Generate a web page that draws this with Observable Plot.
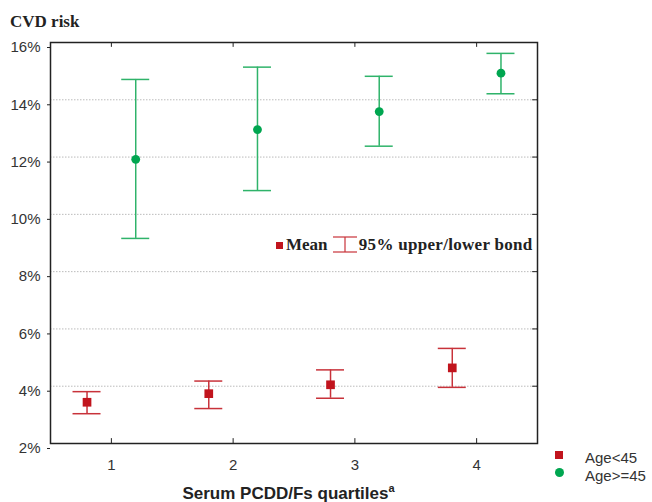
<!DOCTYPE html>
<html>
<head>
<meta charset="utf-8">
<script src="https://cdn.jsdelivr.net/npm/d3@7"></script>
<script src="https://cdn.jsdelivr.net/npm/@observablehq/plot@0.6"></script>
<style>
  html, body { margin: 0; padding: 0; background: #fff; }
  #wrap { position: relative; width: 652px; height: 502px; overflow: hidden; }
  .ov { position: absolute; white-space: nowrap; line-height: 1; }
  .serif { font-family: "Liberation Serif", "Times New Roman", serif; font-weight: bold; color: #222; }
  .sans { font-family: "Liberation Sans", Arial, sans-serif; color: #333; }
</style>
</head>
<body>
<div id="wrap"></div>
<script>
// ---- data ----
const quartiles = [1, 2, 3, 4];
const groups = ["Age<45", "Age>=45"];
const youngMean  = [3.44, 3.74, 4.05, 4.64];
const youngLower = [3.04, 3.22, 3.58, 3.96];
const youngUpper = [3.81, 4.18, 4.57, 5.32];
const oldMean  = [11.92, 12.96, 13.59, 14.93];
const oldLower = [9.16, 10.83, 12.38, 14.21];
const oldUpper = [14.71, 15.14, 14.82, 15.62];
const yTicks = [2, 4, 6, 8, 10, 12, 14, 16];
const gridTicks = [4, 6, 8, 10, 12, 14];

const RED = "#c1141d", RED_LINE = "#c8323a";
const GREEN = "#00a650", GREEN_LINE = "#2fb36a";
const offset = 0.2, capHalf = 0.115;

const rows = [];
quartiles.forEach((q, i) => {
  rows.push({group: groups[0], x: q - offset, mean: youngMean[i], lo: youngLower[i], hi: youngUpper[i]});
  rows.push({group: groups[1], x: q + offset, mean: oldMean[i], lo: oldLower[i], hi: oldUpper[i]});
});
const young = rows.filter(d => d.group === groups[0]);
const old = rows.filter(d => d.group === groups[1]);

function errMarks(data, col) {
  return [
    Plot.ruleX(data, {x: "x", y1: "lo", y2: "hi", stroke: col, strokeWidth: 1.5}),
    Plot.ruleY(data, {y: "hi", x1: d => d.x - capHalf, x2: d => d.x + capHalf, stroke: col, strokeWidth: 1.5}),
    Plot.ruleY(data, {y: "lo", x1: d => d.x - capHalf, x2: d => d.x + capHalf, stroke: col, strokeWidth: 1.5})
  ];
}

const chart = Plot.plot({
  width: 652,
  height: 502,
  marginTop: 42,
  marginBottom: 59,
  marginLeft: 50,
  marginRight: 115,
  style: {fontFamily: "Liberation Sans, Arial, sans-serif", fontSize: "15px", color: "#333", background: "#fff"},
  x: {domain: [0.5, 4.5]},
  y: {domain: [2, 16]},
  marks: [
    Plot.ruleY(gridTicks, {stroke: "#bbb", strokeWidth: 1, strokeDasharray: "1.5,1.5"}),
    // inward ticks
    Plot.ruleX(quartiles, {x: d => d, y1: 2, y2: 2.17, stroke: "#222"}),
    Plot.ruleX(quartiles, {x: d => d, y1: 16, y2: 15.83, stroke: "#222"}),
    Plot.ruleY(gridTicks, {y: d => d, x1: 4.5, x2: 4.46, stroke: "#222"}),
    Plot.axisX({ticks: quartiles, tickSize: 0, tickPadding: 16, label: null, tickFormat: d => String(d)}),
    Plot.axisY({ticks: yTicks, tickSize: 3, tickPadding: 7, dy: 5, label: null, tickFormat: d => d + "%", stroke: "#222"}),
    ...errMarks(young, RED_LINE),
    ...errMarks(old, GREEN_LINE),
    Plot.dot(young, {x: "x", y: "mean", symbol: "square", r: 4.9, fill: RED, stroke: "none"}),
    Plot.dot(old, {x: "x", y: "mean", symbol: "circle", r: 4.4, fill: GREEN, stroke: "none"}),
    Plot.frame({stroke: "#222", strokeWidth: 1.5})
  ]
});

const wrap = document.getElementById("wrap");
wrap.appendChild(chart);

function ov(html, cls, css) {
  const d = document.createElement("div");
  d.className = "ov " + cls;
  d.innerHTML = html;
  Object.assign(d.style, css);
  wrap.appendChild(d);
  return d;
}
// title
ov("CVD risk", "serif", {left: "10px", top: "13px", fontSize: "17px"});
// x-axis label
ov('Serum PCDD/Fs quartiles<sup style="font-size:11px;vertical-align:7px">a</sup>', "sans",
   {left: "0px", width: "577px", textAlign: "center", top: "483px", fontSize: "17px", fontWeight: "bold", color: "#222"});
// in-plot legend
ov('<span style="display:inline-block;width:7px;height:7px;background:' + RED + ';margin-right:3px;vertical-align:1px"></span>Mean ' +
   '<svg width="26" height="17" style="vertical-align:-3px;margin:0 1px 0 0"><line x1="1" x2="25" y1="1" y2="1" stroke="' + RED_LINE + '" stroke-width="1.2"/><line x1="1" x2="25" y1="16" y2="16" stroke="' + RED_LINE + '" stroke-width="1.2"/><line x1="13" x2="13" y1="1" y2="16" stroke="' + RED_LINE + '" stroke-width="1.2"/></svg>' +
   '<span style="letter-spacing:0.3px">95% upper/lower bond</span>',
   "serif", {left: "276px", top: "236px", fontSize: "17px"});
// group legend
ov('<span style="display:inline-block;width:8px;height:8px;background:' + RED + '"></span>', "sans", {left: "555px", top: "446px"});
ov('<span style="display:inline-block;width:9px;height:9px;border-radius:50%;background:' + GREEN + '"></span>', "sans", {left: "555px", top: "464px"});
ov(groups[0], "sans", {left: "585px", top: "450px", fontSize: "15px"});
ov(groups[1], "sans", {left: "585px", top: "468px", fontSize: "15px"});
</script>
</body>
</html>
